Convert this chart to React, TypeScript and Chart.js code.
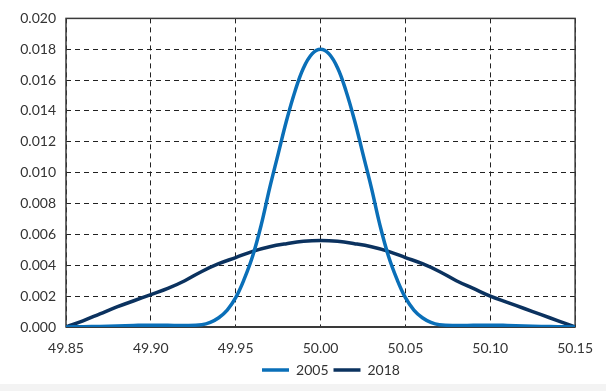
import React, { useEffect, useRef } from "react";
import { Chart, registerables } from "chart.js";

Chart.register(...registerables);

const xValues = [
  49.85, 49.86, 49.87, 49.88, 49.89, 49.9, 49.91, 49.92, 49.93, 49.935, 49.94, 49.945, 49.95, 49.955,
  49.96, 49.965, 49.97, 49.975, 49.98, 49.985, 49.99, 49.995, 50.0, 50.005, 50.01, 50.015,
  50.02, 50.025, 50.03, 50.035, 50.04, 50.045, 50.05, 50.055, 50.06, 50.065, 50.07, 50.08, 50.09,
  50.1, 50.11, 50.12, 50.13, 50.14, 50.15,
];
const series2005 = [
  0.0, 0.00002, 0.00004, 0.00007, 0.0001, 0.00012, 0.00011, 0.0001, 0.00015, 0.0003, 0.0006, 0.0011, 0.0019, 0.0031,
  0.0046, 0.0066, 0.009, 0.0112, 0.0134, 0.0153, 0.0168, 0.0177, 0.018, 0.0177, 0.0168, 0.0153,
  0.0134, 0.0112, 0.009, 0.0066, 0.0046, 0.0031, 0.0019, 0.0011, 0.0006, 0.0003, 0.00015, 0.0001, 0.00011,
  0.00012, 0.0001, 0.00007, 0.00004, 0.00002, 0.0,
];
const xValues2018 = [
  49.85, 49.86, 49.87, 49.88, 49.89, 49.9, 49.91, 49.92, 49.93, 49.94, 49.95, 49.96, 49.97, 49.98,
  49.99, 50.0, 50.01, 50.02, 50.03, 50.04, 50.05, 50.06, 50.07, 50.08, 50.09, 50.1, 50.11, 50.12,
  50.13, 50.14, 50.15,
];
const series2018 = [
  0.0, 0.0004, 0.00085, 0.0013, 0.0017, 0.0021, 0.0025, 0.003, 0.0036, 0.0041, 0.0045, 0.0049, 0.0052,
  0.0054, 0.00555, 0.0056, 0.00555, 0.0054, 0.0052, 0.0049, 0.0045, 0.0041, 0.0036, 0.003, 0.0025,
  0.002, 0.0016, 0.0012, 0.0008, 0.0004, 0.0,
];
const xTickValues = [49.85, 49.9, 49.95, 50.0, 50.05, 50.1, 50.15];
const seriesLabels = ["2005", "2018"];
const seriesColors = ["#0a6fb8", "#0b325f"];

const framePlugin = {
  id: "frame",
  afterLayout(chart: any) {
    const lg = chart.legend;
    if (lg) {
      lg.left += 38;
      lg.right += 38;
    }
  },
  beforeDatasetsDraw(chart: any) {
    const { ctx, chartArea } = chart;
    ctx.save();
    ctx.strokeStyle = "#3a3a3a";
    ctx.lineWidth = 1.5;
    ctx.strokeRect(chartArea.left, chartArea.top, chartArea.right - chartArea.left, chartArea.bottom - chartArea.top);
    ctx.beginPath();
    ctx.lineWidth = 2;
    ctx.moveTo(chartArea.left, chartArea.bottom);
    ctx.lineTo(chartArea.right, chartArea.bottom);
    ctx.stroke();
    ctx.restore();
  },
};

export default function App() {
  const canvasRef = useRef<HTMLCanvasElement | null>(null);

  useEffect(() => {
    document.body.style.margin = "0";
    document.body.style.background = "#f3f3f3";
    const canvas = canvasRef.current;
    if (!canvas) return;
    const font = { family: "Lato", size: 14 };
    const chart = new Chart(canvas, {
      type: "scatter",
      data: {
        datasets: [
          {
            label: seriesLabels[0],
            data: xValues.map((x, i) => ({ x, y: series2005[i] })),
            showLine: true,
            borderColor: seriesColors[0],
            backgroundColor: seriesColors[0],
            borderWidth: 3.5,
            pointRadius: 0,
            tension: 0.4,
          },
          {
            label: seriesLabels[1],
            data: xValues2018.map((x, i) => ({ x, y: series2018[i] })),
            showLine: true,
            borderColor: seriesColors[1],
            backgroundColor: seriesColors[1],
            borderWidth: 3.5,
            pointRadius: 0,
            tension: 0.4,
          },
        ],
      },
      options: {
        animation: false,
        responsive: false,
        maintainAspectRatio: false,
        layout: { padding: { left: 0, right: 20, top: 15, bottom: 4 } },
        plugins: {
          tooltip: { enabled: false },
          legend: {
            position: "bottom",
            labels: {
              usePointStyle: true,
              pointStyle: "line",
              pointStyleWidth: 27,
              color: "#333",
              font: { family: "Lato", size: 14 },
              padding: 5,
            },
          },
        },
        scales: {
          x: {
            type: "linear",
            min: 49.85,
            max: 50.15,
            afterBuildTicks(scale: any) {
              scale.ticks = xTickValues.map((v) => ({ value: v }));
            },
            afterFit(scale: any) {
              scale.height = 31;
            },
            ticks: {
              padding: 13,
              color: "#333",
              font,
              maxRotation: 0,
              callback: (v: any) => Number(v).toFixed(2),
            },
            grid: {
              color: "#222",
              lineWidth: 1,
              drawTicks: false,
            },
            border: { display: false, dash: [5, 4] },
          },
          y: {
            type: "linear",
            min: 0,
            max: 0.02,
            ticks: {
              stepSize: 0.002,
              padding: 10,
              color: "#333",
              font,
              callback: (v: any) => Number(v).toFixed(3),
            },
            afterFit(scale: any) {
              scale.width = 66;
            },
            grid: {
              color: "#222",
              lineWidth: 1,
              drawTicks: false,
            },
            border: { display: false, dash: [5, 4] },
          },
        },
      },
      plugins: [framePlugin],
    } as any);
    return () => chart.destroy();
  }, []);

  return (
    <div style={{ width: 606, height: 391, background: "#f3f3f3", position: "relative" }}>
      <div style={{ width: 606, height: 384, background: "#ffffff", position: "absolute", left: 0, top: 0 }} />
      <canvas ref={canvasRef} width={606} height={391} style={{ display: "block", position: "absolute", left: 0, top: 0 }} />
    </div>
  );
}
